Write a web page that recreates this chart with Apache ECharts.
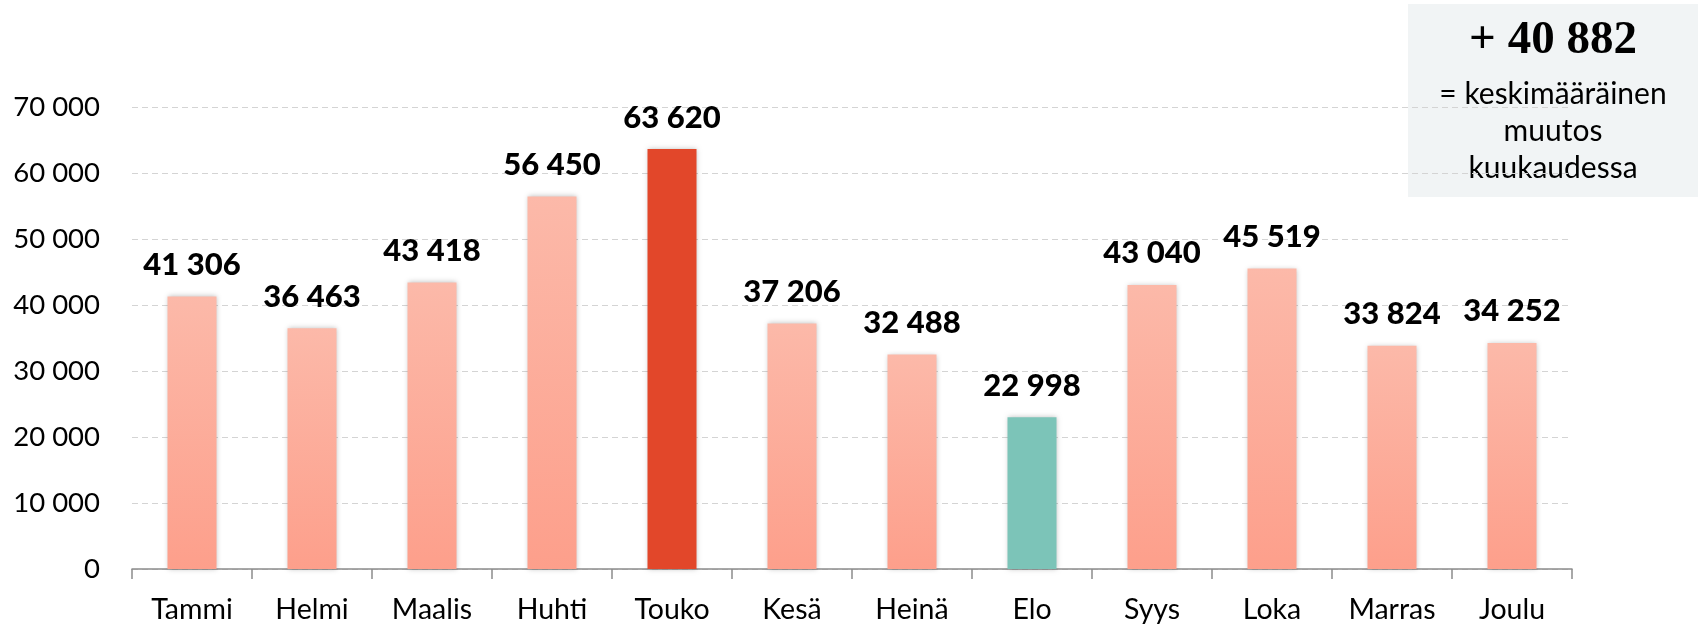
<!DOCTYPE html>
<html>
<head>
<meta charset="utf-8">
<script src="https://cdn.jsdelivr.net/npm/echarts@6/dist/echarts.min.js"></script>
<style>
html,body{margin:0;padding:0;background:#fff;}
#chart{width:1706px;height:625px;}
</style>
</head>
<body>
<div id="chart"></div>
<script>
const months = ['Tammi','Helmi','Maalis','Huhti','Touko','Kesä','Heinä','Elo','Syys','Loka','Marras','Joulu'];
const values = [41306, 36463, 43418, 56450, 63620, 37206, 32488, 22998, 43040, 45519, 33824, 34252];
const yTicks = [0, 10000, 20000, 30000, 40000, 50000, 60000, 70000];
const boxHeadline = '+ 40 882';
const boxLines = ['= keskimääräinen', 'muutos', 'kuukaudessa'];

function fmt(v){ return String(v).replace(/\B(?=(\d{3})+(?!\d))/g, ' '); }

const maxV = Math.max(...values), minV = Math.min(...values);
const normalGrad = new echarts.graphic.LinearGradient(0,0,0,1,[{offset:0,color:'#FCB9A9'},{offset:1,color:'#FD9F8B'}]);
const barData = values.map(v => ({
  value: v,
  itemStyle: { color: v === maxV ? '#E2472A' : (v === minV ? '#7CC4B8' : normalGrad) }
}));

const chart = echarts.init(document.getElementById('chart'));
chart.setOption({
  animation: false,
  grid: { left: 132, right: 134, top: 107, bottom: 56 },
  xAxis: {
    type: 'category',
    data: months,
    axisLine: { lineStyle: { color: '#8C8C8C', width: 1.5 } },
    axisTick: { show: true, length: 10, lineStyle: { color: '#8C8C8C', width: 1.5 } },
    axisLabel: { color: '#000', fontFamily: 'Lato', fontSize: 28.5, margin: 26 }
  },
  yAxis: {
    type: 'value',
    min: yTicks[0], max: yTicks[yTicks.length-1], interval: yTicks[1]-yTicks[0],
    axisLine: { show: false },
    axisTick: { show: false },
    axisLabel: { color: '#000', fontFamily: 'Lato', fontSize: 27.5, margin: 32, formatter: v => fmt(v) },
    splitLine: { lineStyle: { color: '#D4D4D4', type: [6,4], width: 1.2 } }
  },
  series: [{
    type: 'bar',
    data: barData,
    barWidth: 49,
    itemStyle: { shadowBlur: 5, shadowColor: 'rgba(0,0,0,0.25)' },
    label: {
      show: true, position: 'top', distance: 16,
      formatter: p => fmt(p.value),
      color: '#000', fontFamily: 'Lato', fontWeight: 900, fontSize: 31
    }
  }],
  graphic: [{
    type: 'group',
    children: [
      { type: 'rect', shape: { x: 1408, y: 4, width: 290, height: 193 }, style: { fill: '#F1F4F5' } },
      { type: 'text', x: 1553, y: 41, style: { text: boxHeadline, fontFamily: 'Liberation Serif', fontWeight: 'bold', fontSize: 47, fill: '#000', align: 'center', verticalAlign: 'middle' } },
      { type: 'text', x: 1553, y: 94, style: { text: boxLines[0], fontFamily: 'Lato', fontSize: 30, fill: '#000', align: 'center', verticalAlign: 'middle' } },
      { type: 'text', x: 1553, y: 131, style: { text: boxLines[1], fontFamily: 'Lato', fontSize: 30, fill: '#000', align: 'center', verticalAlign: 'middle' } },
      { type: 'text', x: 1553, y: 168, style: { text: boxLines[2], fontFamily: 'Lato', fontSize: 30, fill: '#000', align: 'center', verticalAlign: 'middle' } }
    ]
  }]
});
</script>
</body>
</html>
